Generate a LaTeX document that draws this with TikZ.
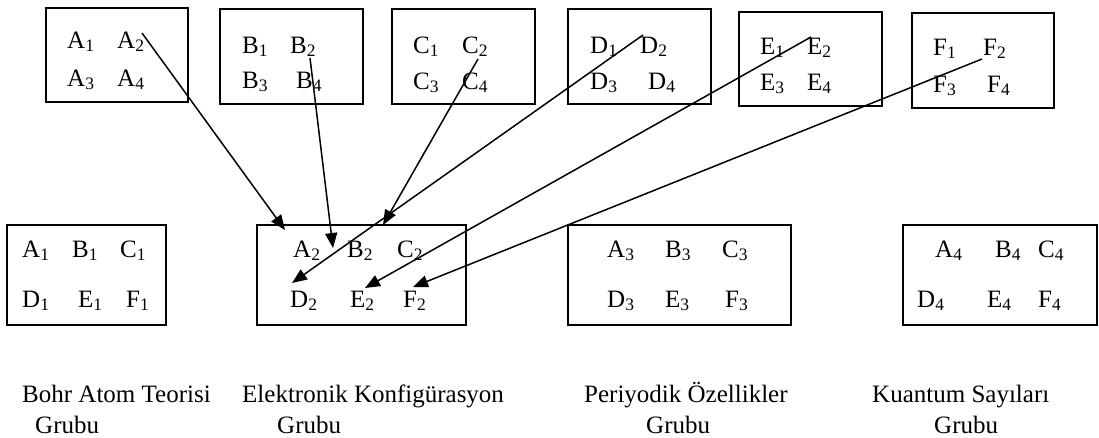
\documentclass[tikz,border=0pt]{standalone}
\usepackage{fontspec}
\setmainfont{Liberation Serif}
\usetikzlibrary{arrows.meta}
\newcommand{\sy}[2]{#1\textsubscript{#2}}
\begin{document}
\begin{tikzpicture}[x=1pt,y=-1pt,
  box/.style={draw, line width=1.8pt, inner sep=0pt},
  sym/.style={anchor=base west, inner sep=0pt, font=\fontsize{25}{30}\selectfont},
  lbl/.style={anchor=base west, inner sep=0pt, font=\fontsize{25}{30}\selectfont},
  arr/.style={line width=1.5pt, -{Triangle[length=15pt,width=12pt]}}]
\useasboundingbox (0,0) rectangle (1099,437);

% upper boxes: one per letter
\draw[box] (46,8) rectangle (188,102);
\draw[box] (220,9) rectangle (363,104);
\draw[box] (392,9) rectangle (535,104);
\draw[box] (568,9) rectangle (711,104);
\draw[box] (739,12) rectangle (882,106);
\draw[box] (912,13) rectangle (1054,108);

\node[sym] (uA1) at (67,48) {\sy{A}{1}};
\node[sym] (uA2) at (117,48) {\sy{A}{2}};
\node[sym] (uA3) at (67,86) {\sy{A}{3}};
\node[sym] (uA4) at (117,86) {\sy{A}{4}};

\node[sym] (uB1) at (242,53) {\sy{B}{1}};
\node[sym] (uB2) at (290,53) {\sy{B}{2}};
\node[sym] (uB3) at (242,88) {\sy{B}{3}};
\node[sym] (uB4) at (296,88) {\sy{B}{4}};

\node[sym] (uC1) at (413,53) {\sy{C}{1}};
\node[sym] (uC2) at (462,53) {\sy{C}{2}};
\node[sym] (uC3) at (413,89) {\sy{C}{3}};
\node[sym] (uC4) at (462,89) {\sy{C}{4}};

\node[sym] (uD1) at (590,53) {\sy{D}{1}};
\node[sym] (uD2) at (640,53) {\sy{D}{2}};
\node[sym] (uD3) at (590,89) {\sy{D}{3}};
\node[sym] (uD4) at (648,89) {\sy{D}{4}};

\node[sym] (uE1) at (760,54) {\sy{E}{1}};
\node[sym] (uE2) at (807,54) {\sy{E}{2}};
\node[sym] (uE3) at (760,90) {\sy{E}{3}};
\node[sym] (uE4) at (807,90) {\sy{E}{4}};

\node[sym] (uF1) at (933,55) {\sy{F}{1}};
\node[sym] (uF2) at (983,55) {\sy{F}{2}};
\node[sym] (uF3) at (933,92) {\sy{F}{3}};
\node[sym] (uF4) at (987,92) {\sy{F}{4}};

% lower boxes: one per group
\draw[box] (7,225) rectangle (166,325);
\draw[box] (257,225) rectangle (466,325);
\draw[box] (568,225) rectangle (791,325);
\draw[box] (903,225) rectangle (1097,325);

\node[sym] (gA1) at (22,257) {\sy{A}{1}};
\node[sym] (gB1) at (72,257) {\sy{B}{1}};
\node[sym] (gC1) at (120,257) {\sy{C}{1}};
\node[sym] (gD1) at (22,307) {\sy{D}{1}};
\node[sym] (gE1) at (78,307) {\sy{E}{1}};
\node[sym] (gF1) at (126,307) {\sy{F}{1}};

\node[sym] (gA2) at (293,257) {\sy{A}{2}};
\node[sym] (gB2) at (347,257) {\sy{B}{2}};
\node[sym] (gC2) at (397,257) {\sy{C}{2}};
\node[sym] (gD2) at (290,307) {\sy{D}{2}};
\node[sym] (gE2) at (350,307) {\sy{E}{2}};
\node[sym] (gF2) at (403,307) {\sy{F}{2}};

\node[sym] (gA3) at (607,257) {\sy{A}{3}};
\node[sym] (gB3) at (665,257) {\sy{B}{3}};
\node[sym] (gC3) at (722,257) {\sy{C}{3}};
\node[sym] (gD3) at (607,307) {\sy{D}{3}};
\node[sym] (gE3) at (665,307) {\sy{E}{3}};
\node[sym] (gF3) at (725,307) {\sy{F}{3}};

\node[sym] (gA4) at (935,257) {\sy{A}{4}};
\node[sym] (gB4) at (995,257) {\sy{B}{4}};
\node[sym] (gC4) at (1038,257) {\sy{C}{4}};
\node[sym] (gD4) at (917,307) {\sy{D}{4}};
\node[sym] (gE4) at (987,307) {\sy{E}{4}};
\node[sym] (gF4) at (1038,307) {\sy{F}{4}};

% group captions
\node[lbl] (l1a) at (22,402) {Bohr Atom Teorisi};
\node[lbl] (l1b) at (35,433) {Grubu};
\node[lbl] (l2a) at (242,402) {Elektronik Konfigürasyon};
\node[lbl] (l2b) at (277,433) {Grubu};
\node[lbl] (l3a) at (584,402) {Periyodik Özellikler};
\node[lbl] (l3b) at (646,433) {Grubu};
\node[lbl] (l4a) at (872,402) {Kuantum Sayıları};
\node[lbl] (l4b) at (934,433) {Grubu};

% arrow ends
\coordinate (s1) at (142,33);  \coordinate (t1) at (285,230);
\coordinate (s2) at (310,58);  \coordinate (t2) at (333,248);
\coordinate (s3) at (478,59);  \coordinate (t3) at (383,225);
\coordinate (s4) at (643,35);  \coordinate (t4) at (292,283);
\coordinate (s5) at (811,37);  \coordinate (t5) at (365,288);
\coordinate (s6) at (982,59);  \coordinate (t6) at (413,287);

\draw[arr] (s1) -- (t1);
\draw[arr] (s2) -- (t2);
\draw[arr] (s3) -- (t3);
\draw[arr] (s4) -- (t4);
\draw[arr] (s5) -- (t5);
\draw[arr] (s6) -- (t6);
\end{tikzpicture}
\end{document}
